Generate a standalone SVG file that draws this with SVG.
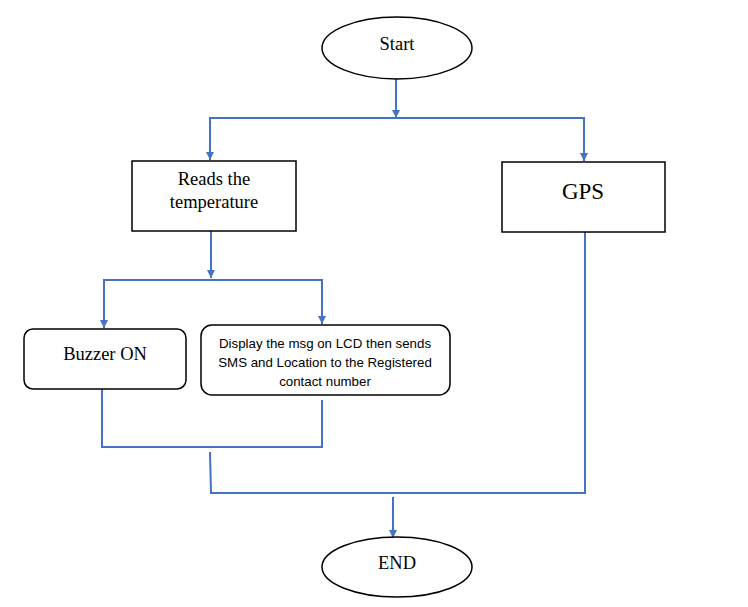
<svg xmlns="http://www.w3.org/2000/svg" width="748" height="607" viewBox="0 0 748 607">
<style>
.n{fill:#fff;stroke:#000;stroke-width:1.5}
.t{font-family:"Liberation Serif",serif;font-size:18.5px;fill:#000;text-anchor:middle}
.s{font-family:"Liberation Sans",sans-serif;font-size:13.3px;fill:#000;text-anchor:middle}
.c{fill:none;stroke:#4472C4;stroke-width:2}
</style>
<defs>
<marker id="a" markerUnits="userSpaceOnUse" markerWidth="10" markerHeight="10" refX="8" refY="4" orient="auto">
<path d="M0,0 L8,4 L0,8 Z" fill="#4472C4"/>
</marker>
</defs>
<rect width="748" height="607" fill="#fff"/>
<g id="connectors">
<path class="c" d="M396,79 V118" marker-end="url(#a)"/>
<path class="c" d="M210,160 V118 H584 V161"/>
<path class="c" d="M210,119 V160" marker-end="url(#a)"/>
<path class="c" d="M584,119 V161" marker-end="url(#a)"/>
<path class="c" d="M211,231 V278" marker-end="url(#a)"/>
<path class="c" d="M104,328 V280 H322 V324"/>
<path class="c" d="M104,281 V328" marker-end="url(#a)"/>
<path class="c" d="M322,281 V324" marker-end="url(#a)"/>
<path class="c" d="M102,389 V447 H322 V400"/>
<path class="c" d="M210,452 L211,493 H585 V232"/>
<path class="c" d="M393,497 V538" marker-end="url(#a)"/>
</g>
<g id="start">
<ellipse class="n" cx="397" cy="48" rx="75" ry="31"/>
<text class="t" x="397" y="50">Start</text>
</g>
<g id="reads">
<rect class="n" x="132" y="161" width="164" height="70"/>
<text class="t" x="214" y="185">Reads the</text>
<text class="t" x="214" y="208">temperature</text>
</g>
<g id="gps">
<rect class="n" x="502" y="162" width="163" height="70"/>
<text class="t" x="583" y="199" style="font-size:23px">GPS</text>
</g>
<g id="buzzer">
<rect class="n" x="24" y="329" width="162" height="60" rx="9"/>
<text class="t" x="105" y="360">Buzzer ON</text>
</g>
<g id="display">
<rect class="n" x="201" y="325" width="249" height="70" rx="11"/>
<text class="s" x="325" y="348">Display the msg on LCD then sends</text>
<text class="s" x="325" y="367">SMS and Location to the Registered</text>
<text class="s" x="325" y="386">contact number</text>
</g>
<g id="end">
<ellipse class="n" cx="397" cy="567" rx="75" ry="30"/>
<text class="t" x="397" y="569">END</text>
</g>
</svg>
